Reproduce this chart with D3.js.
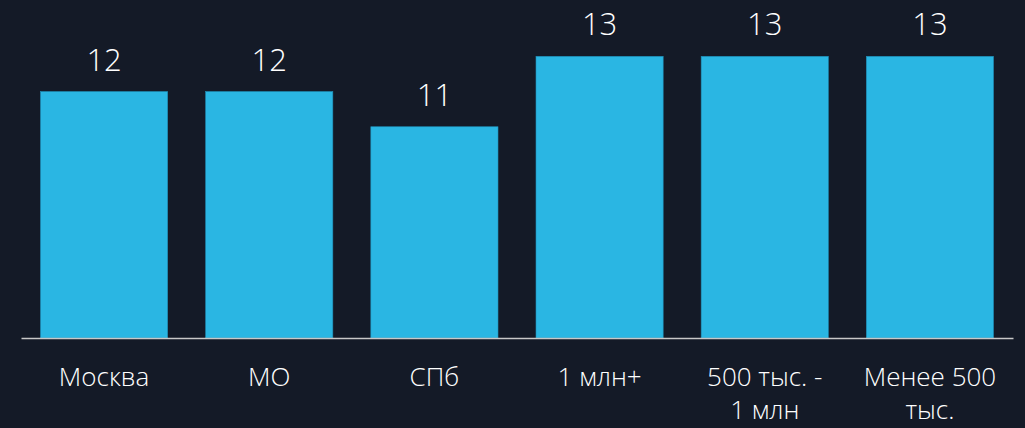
<!DOCTYPE html>
<html><head><meta charset="utf-8">
<script src="https://cdn.jsdelivr.net/npm/d3@7"></script>
<style>
html,body{margin:0;padding:0;background:#141a27;}
svg{display:block;}
</style></head>
<body>
<svg id="chart" width="1025" height="428"></svg>
<script>
const categories = ["Москва", "МО", "СПб", "1 млн+", "500 тыс. -\n1 млн", "Менее 500\nтыс."];
const values = [12, 12, 11, 13, 13, 13];

const W = 1025, H = 428;
const baseline = 338;
const svg = d3.select("#chart");
svg.append("rect").attr("width", W).attr("height", H).attr("fill", "#141a27");

const x = d3.scaleBand().domain(categories).range([21, 1013]).paddingInner(0.23).paddingOuter(0.118);
const y = d3.scaleLinear().domain([5, 14.6]).range([baseline, 0]);

const font = "'Open Sans', 'Noto Sans', sans-serif";

svg.selectAll("rect.bar").data(values).enter().append("rect")
  .attr("class", "bar")
  .attr("x", (d, i) => x(categories[i]))
  .attr("y", d => y(d))
  .attr("width", x.bandwidth())
  .attr("height", d => baseline - y(d))
  .attr("fill", "#2ab6e3")
  .attr("stroke", "#1f8fb8")
  .attr("stroke-width", 0.6);

svg.selectAll("text.val").data(values).enter().append("text")
  .attr("class", "val")
  .attr("x", (d, i) => x(categories[i]) + x.bandwidth() / 2)
  .attr("y", d => y(d) - 21)
  .attr("text-anchor", "middle")
  .attr("font-family", font)
  .attr("font-size", 31)
  .attr("font-weight", 300)
  .attr("fill", "#ffffff")
  .text(d => d);

const axis = d3.axisBottom(x).tickSize(0).tickPadding(0);
const ax = svg.append("g").attr("transform", `translate(0,${baseline})`).call(axis);
ax.select(".domain").attr("stroke", "#c8c8c8").attr("stroke-width", 1.6);
ax.selectAll(".tick text").remove();
ax.selectAll(".tick").each(function(d) {
  const t = d3.select(this).append("text")
    .attr("text-anchor", "middle")
    .attr("font-family", font)
    .attr("font-size", 26)
    .attr("font-weight", 300)
    .attr("fill", "#ffffff")
    .attr("y", 48);
  d.split("\n").forEach((line, i) => {
    t.append("tspan").attr("x", 0).attr("dy", i === 0 ? 0 : 33).text(line);
  });
});
</script>
</body></html>
